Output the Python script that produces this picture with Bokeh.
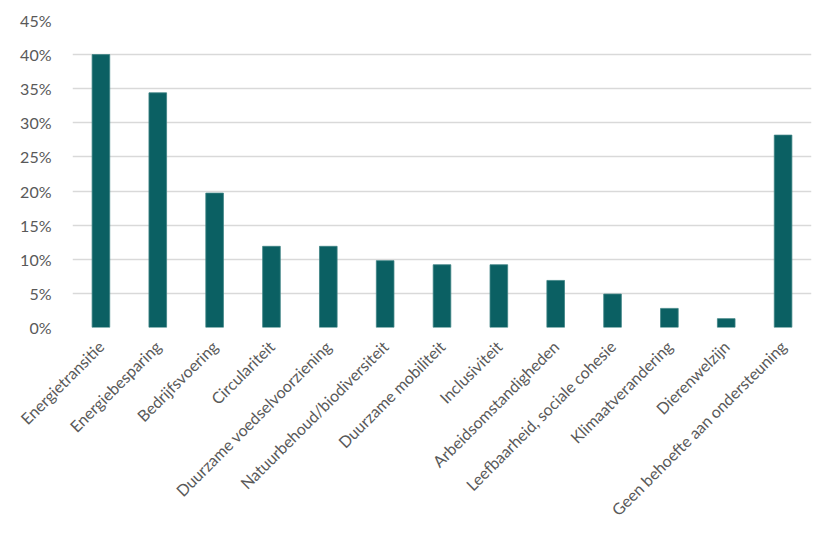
import math
from bokeh.plotting import figure
from bokeh.models import ColumnDataSource, FactorRange, NumeralTickFormatter, SingleIntervalTicker, Range1d
from bokeh.embed import file_html
from bokeh.resources import INLINE

categories = [
    "Energietransitie", "Energiebesparing", "Bedrijfsvoering", "Circulariteit",
    "Duurzame voedselvoorziening", "Natuurbehoud/biodiversiteit", "Duurzame mobiliteit",
    "Inclusiviteit", "Arbeidsomstandigheden", "Leefbaarheid, sociale cohesie",
    "Klimaatverandering", "Dierenwelzijn", "Geen behoefte aan ondersteuning",
]
values = [0.400, 0.344, 0.197, 0.119, 0.119, 0.098, 0.092, 0.092, 0.069, 0.049, 0.028, 0.013, 0.282]

source = ColumnDataSource(data=dict(cat=categories, val=values))

p = figure(
    x_range=FactorRange(factors=categories, range_padding=0),
    y_range=Range1d(0, 0.45),
    width=816, height=528,
    output_backend="svg", toolbar_location=None,
    min_border_left=72, min_border_right=5, min_border_top=20, min_border_bottom=200,
)
p.vbar(x="cat", top="val", width=0.31, source=source,
       fill_color="#0b6063", line_color="#3d8384", line_width=0.8)

p.yaxis.ticker = SingleIntervalTicker(interval=0.05)
p.yaxis.formatter = NumeralTickFormatter(format="0%")
p.yaxis.axis_line_color = None
p.yaxis.major_tick_line_color = None
p.yaxis.minor_tick_line_color = None
p.yaxis.major_label_text_font = "Lato"
p.yaxis.major_label_text_font_size = "16px"
p.yaxis.major_label_text_color = "#595959"
p.yaxis.major_label_standoff = 15

p.xaxis.axis_line_color = None
p.xaxis.major_tick_line_color = None
p.xaxis.minor_tick_line_color = None
p.xaxis.major_label_orientation = math.pi / 4
p.xaxis.major_label_text_font = "Lato"
p.xaxis.major_label_text_font_size = "16px"
p.xaxis.major_label_text_color = "#595959"
p.xaxis.major_label_standoff = 10

p.xgrid.grid_line_color = None
p.ygrid.grid_line_color = "#d9d9d9"
p.ygrid.grid_line_width = 1.3
p.outline_line_color = None
p.background_fill_color = "white"
p.border_fill_color = "white"

open("out.html", "w").write(file_html(p, INLINE))
